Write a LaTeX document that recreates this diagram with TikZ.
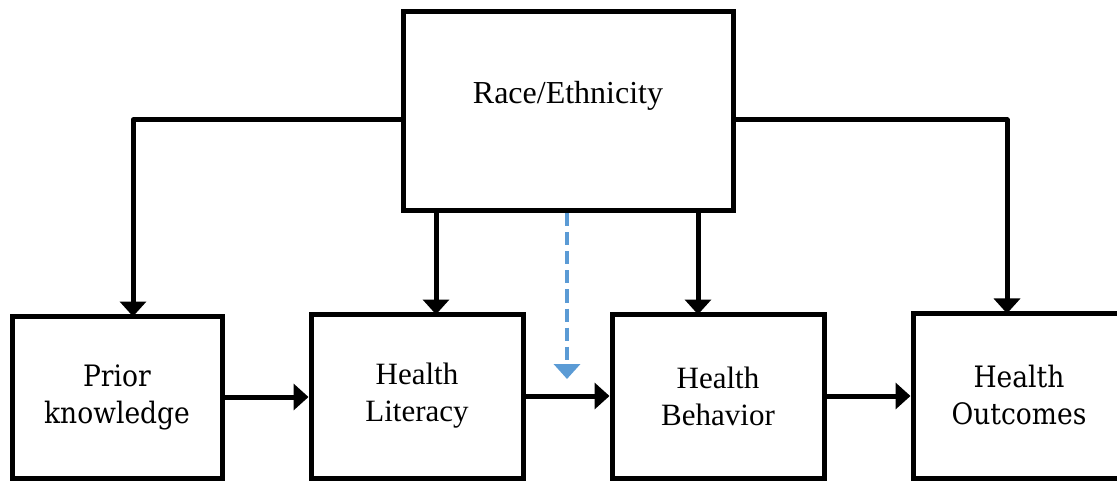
\documentclass[tikz,border=0pt]{standalone}
\usepackage{fontspec}
\setmainfont{Liberation Serif}
\newfontfamily\camf{DejaVu Serif Condensed}
\usetikzlibrary{arrows.meta}
\definecolor{dashblue}{HTML}{5B9BD5}
\begin{document}
\begin{tikzpicture}[x=1pt,y=-1pt,
  box/.style={draw=black,line width=5pt,rectangle,inner sep=0pt,align=center,fill=white},
  cam/.style={font=\camf\fontsize{29.5}{37}\selectfont},
  tim/.style={font=\fontsize{31}{37}\selectfont},
  arr/.style={line width=5pt,line join=round,-{Triangle[length=15pt,width=26pt]}},
  darr/.style={line width=4.5pt,draw=dashblue,dash pattern=on 13pt off 6pt,-{Triangle[length=15pt,width=26pt,fill=dashblue]}}]
\useasboundingbox (0,0) rectangle (1117,481);
\node[box,minimum width=330pt,minimum height=199pt,label={[name=racetext,font=\fontsize{32}{38}\selectfont,yshift=16pt]center:Race/Ethnicity}] (race) at (568,111.5) {};
\node[box,cam,minimum width=210pt,minimum height=162pt] (prior) at (117,397) {Prior\\knowledge};
\node[box,tim,minimum width=212pt,minimum height=164pt] (lit) at (417,396) {Health\\Literacy};
\node[box,tim,minimum width=212pt,minimum height=164pt] (beh) at (718,396) {Health\\Behavior};
\node[box,cam,minimum width=212pt,minimum height=165pt] (out) at (1019,395.5) {Health\\Outcomes};
\coordinate (xl) at (133,120);
\coordinate (xr) at (1007,120);
\coordinate (xa) at (436,0);
\coordinate (xb) at (698,0);
\coordinate (xd) at (567,0);
\coordinate (dend) at (567,379);
\draw[arr] (race.west |- xl) -- (xl) -- ([yshift=-3pt]xl |- prior.north);
\draw[arr] (race.east |- xr) -- (xr) -- ([yshift=-3pt]xr |- out.north);
\draw[arr] (race.south -| xa) -- ([yshift=-3pt]lit.north -| xa);
\draw[arr] (race.south -| xb) -- ([yshift=-3pt]beh.north -| xb);
\draw[darr] (race.south -| xd) -- (dend);
\draw[arr] (prior.east) -- (prior.east -| lit.west);
\draw[arr] (lit.east) -- (lit.east -| beh.west);
\draw[arr] (beh.east) -- (beh.east -| out.west);
\end{tikzpicture}
\end{document}
